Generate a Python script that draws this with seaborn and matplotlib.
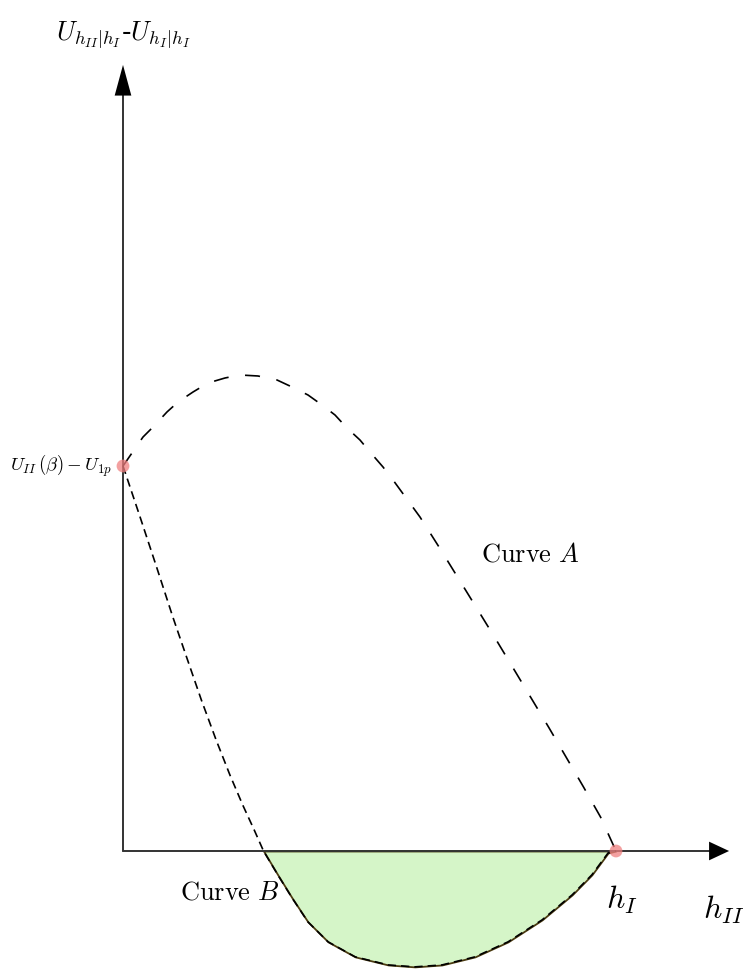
import numpy as np
import pandas as pd
import matplotlib
matplotlib.use("Agg")
import matplotlib.pyplot as plt
import seaborn as sns

# curve values (x: 0 -> h_I at 1, y: value at 0 is 1)
curve_a_x = [0.0, 0.0406, 0.0609, 0.0892, 0.1116, 0.1420, 0.1724, 0.2069, 0.2373,
             0.2738, 0.3124, 0.3428, 0.3753, 0.4037, 0.4300, 0.4544, 0.4807, 0.5010,
             0.5274, 0.5477, 0.6024, 0.6410, 0.6785, 0.7160, 0.7535, 0.7901, 0.8266,
             0.8631, 0.8986, 0.9341, 0.9686, 1.0]
curve_a_y = [1.0, 1.0753, 1.1013, 1.1403, 1.1662, 1.1922, 1.2156, 1.2286, 1.2364,
             1.2338, 1.2234, 1.2052, 1.1844, 1.1584, 1.1325, 1.0987, 1.0675, 1.0364,
             0.9974, 0.9636, 0.8675, 0.7896, 0.7117, 0.6338, 0.5558, 0.4779, 0.4000,
             0.3221, 0.2442, 0.1662, 0.0883, 0.0]
curve_b_x = [0.0, 0.0345, 0.068, 0.101, 0.131, 0.159, 0.189, 0.217, 0.243, 0.266,
             0.285, 0.314, 0.343, 0.375, 0.416, 0.471, 0.538, 0.592, 0.647, 0.714,
             0.781, 0.850, 0.911, 0.951, 0.984, 1.0]
curve_b_y = [1.0, 0.868, 0.738, 0.608, 0.496, 0.392, 0.288, 0.197, 0.119, 0.055,
             0.0, -0.062, -0.122, -0.184, -0.236, -0.275, -0.296, -0.301, -0.296, -0.275,
             -0.236, -0.179, -0.114, -0.062, -0.005, 0.0]
marked_x = [0.0, 1.0]
marked_y = [1.0, 0.0]

sns.set_style("white")
plt.rcParams["mathtext.fontset"] = "cm"
plt.rcParams["text.color"] = "black"

fig = plt.figure(figsize=(7.43, 9.72), dpi=100)
ax = fig.add_axes([0, 0, 1, 1])
ax.set_xlim(-0.2495, 1.2576)
ax.set_ylim(-0.3143, 2.2104)
ax.axis("off")

df_a = pd.DataFrame({"x": curve_a_x, "y": curve_a_y})
df_b = pd.DataFrame({"x": curve_b_x, "y": curve_b_y})

# shaded region where curve B drops below zero
bx = np.array(curve_b_x)
by = np.array(curve_b_y)
ax.fill_between(bx, by, 0, where=by <= 0, interpolate=True,
                facecolor="#d5f5c8", edgecolor="#4a3a10", linewidth=1.3, zorder=1)

# axes with arrows
ax.plot([0, 1.20], [0, 0], color="#333333", lw=1.4, zorder=2)
ax.plot([0, 0], [0, 2.0], color="#333333", lw=1.4, zorder=2)
ax.annotate("", xy=(1.235, 0), xytext=(1.15, 0),
            arrowprops=dict(arrowstyle="-|>,head_length=0.6,head_width=0.28",
                            color="black", mutation_scale=24, lw=0))
ax.annotate("", xy=(0, 2.049), xytext=(0, 1.95),
            arrowprops=dict(arrowstyle="-|>,head_length=0.92,head_width=0.25",
                            color="black", mutation_scale=24, lw=0))

sns.lineplot(data=df_a, x="x", y="y", sort=False, ax=ax, color="black",
             lw=1.2, zorder=3).lines[-1].set_dashes([9, 10])
sns.lineplot(data=df_b, x="x", y="y", sort=False, ax=ax, color="black",
             lw=1.2, zorder=3).lines[-1].set_dashes([5, 3])

ax.scatter(marked_x, marked_y, s=85, color="#f08080", alpha=0.75,
           edgecolors="none", zorder=4)

ax.text(0.0, 2.119, r"$U_{h_{II}|h_I}$-$U_{h_I|h_I}$", fontsize=19,
        ha="center", va="center")
ax.text(-0.022, 1.0, r"$U_{II}\,(\beta)-U_{1p}$", fontsize=13.5,
        ha="right", va="center")
ax.text(0.826, 0.769, r"$\mathrm{Curve}\ A$", fontsize=19, ha="center", va="center")
ax.text(0.217, -0.109, r"$\mathrm{Curve}\ B$", fontsize=19, ha="center", va="center")
ax.text(1.012, -0.127, r"$h_I$", fontsize=23, ha="center", va="center")
ax.text(1.219, -0.153, r"$h_{II}$", fontsize=23, ha="center", va="center")

fig.savefig("out.png", dpi=100)
